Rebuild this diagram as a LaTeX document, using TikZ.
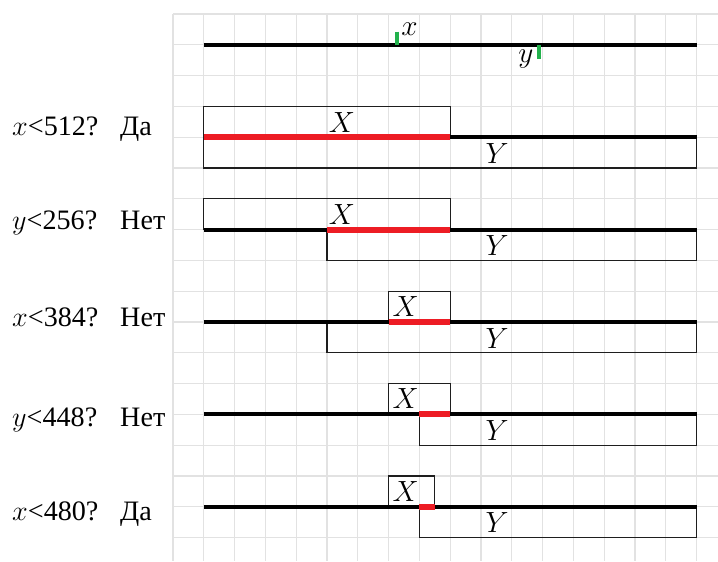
\documentclass[tikz,border=0pt]{standalone}
\usepackage{fix-cm}
\usepackage{fontspec}
\setmainfont{Liberation Serif}
\definecolor{gridgray}{RGB}{226,226,226}
\definecolor{hitred}{RGB}{237,28,36}
\definecolor{tickgreen}{RGB}{34,177,76}
\definecolor{boxgray}{RGB}{30,30,30}
\begin{document}
\begin{tikzpicture}[x=1cm,y=1cm,
  gridline/.style={draw=gridgray, line width=1.1pt},
  axisline/.style={draw=black, line width=3.7pt},
  hitline/.style={draw=hitred, line width=5.5pt},
  regbox/.style={draw=boxgray, line width=1.2pt},
  marktick/.style={draw=tickgreen, line width=3.7pt},
  lbl/.style={inner sep=0pt, font=\fontsize{26}{30}\selectfont, anchor=base west},
  setlbl/.style={inner sep=0pt, font=\fontsize{27}{30}\selectfont}]
\useasboundingbox (-5.617,0.4545) rectangle (17.695,-17.760);
% grid
\foreach \i in {0,...,17} {
  \draw[gridline] (\i,0) -- (\i,-17.76);
  \draw[gridline] (0,-\i) -- (17.695,-\i);
}
% top line with ticks
\coordinate (t0) at (1,-1);
\coordinate (t1) at (17,-1);
\draw[axisline] (t0) -- (t1);
\coordinate (gx0) at (7.283,-0.575);
\coordinate (gx1) at (7.283,-1);
\coordinate (gy0) at (11.873,-1);
\coordinate (gy1) at (11.873,-1.471);
\draw[marktick] (gx0) -- (gx1);
\draw[marktick] (gy0) -- (gy1);
\node[setlbl] (lx) at (7.675,-0.50) {$x$};
\node[setlbl] (ly) at (11.455,-1.46) {$y$};
% steps: #row, X box, Y box, red segment
% step 1
\draw[regbox] (1,-3) rectangle (9,-4);
\draw[regbox] (1,-4) rectangle (17,-5);
\coordinate (s1a) at (1,-4); \coordinate (s1b) at (17,-4);
\coordinate (r1a) at (1,-4); \coordinate (r1b) at (9,-4);
\draw[axisline] (s1a) -- (s1b);
\draw[hitline] (r1a) -- (r1b);
\node[setlbl] (X1) at (5.48,-3.52) {$X$};
\node[setlbl] (Y1) at (10.52,-4.52) {$Y$};
% step 2
\draw[regbox] (1,-6) rectangle (9,-7);
\draw[regbox] (5,-7) rectangle (17,-8);
\coordinate (s2a) at (1,-7); \coordinate (s2b) at (17,-7);
\coordinate (r2a) at (5,-7); \coordinate (r2b) at (9,-7);
\draw[axisline] (s2a) -- (s2b);
\draw[hitline] (r2a) -- (r2b);
\node[setlbl] (X2) at (5.48,-6.52) {$X$};
\node[setlbl] (Y2) at (10.52,-7.52) {$Y$};
% step 3
\draw[regbox] (7,-9) rectangle (9,-10);
\draw[regbox] (5,-10) rectangle (17,-11);
\coordinate (s3a) at (1,-10); \coordinate (s3b) at (17,-10);
\coordinate (r3a) at (7,-10); \coordinate (r3b) at (9,-10);
\draw[axisline] (s3a) -- (s3b);
\draw[hitline] (r3a) -- (r3b);
\node[setlbl] (X3) at (7.55,-9.50) {$X$};
\node[setlbl] (Y3) at (10.52,-10.52) {$Y$};
% step 4
\draw[regbox] (7,-12) rectangle (9,-13);
\draw[regbox] (8,-13) rectangle (17,-14);
\coordinate (s4a) at (1,-13); \coordinate (s4b) at (17,-13);
\coordinate (r4a) at (8,-13); \coordinate (r4b) at (9,-13);
\draw[axisline] (s4a) -- (s4b);
\draw[hitline] (r4a) -- (r4b);
\node[setlbl] (X4) at (7.55,-12.50) {$X$};
\node[setlbl] (Y4) at (10.52,-13.52) {$Y$};
% step 5
\draw[regbox] (7,-15) rectangle (8.5,-16);
\draw[regbox] (8,-16) rectangle (17,-17);
\coordinate (s5a) at (1,-16); \coordinate (s5b) at (17,-16);
\coordinate (r5a) at (8,-16); \coordinate (r5b) at (8.5,-16);
\draw[axisline] (s5a) -- (s5b);
\draw[hitline] (r5a) -- (r5b);
\node[setlbl] (X5) at (7.55,-15.51) {$X$};
\node[setlbl] (Y5) at (10.52,-16.52) {$Y$};
% left labels
\node[lbl] (q1) at (-5.227,-3.93) {$x$<512?};
\node[lbl] (a1) at (-1.72,-3.93) {Да};
\node[lbl] (q2) at (-5.227,-6.99) {$y$<256?};
\node[lbl] (a2) at (-1.72,-6.99) {Нет};
\node[lbl] (q3) at (-5.227,-10.15) {$x$<384?};
\node[lbl] (a3) at (-1.72,-10.15) {Нет};
\node[lbl] (q4) at (-5.227,-13.39) {$y$<448?};
\node[lbl] (a4) at (-1.72,-13.39) {Нет};
\node[lbl] (q5) at (-5.227,-16.44) {$x$<480?};
\node[lbl] (a5) at (-1.72,-16.44) {Да};
\end{tikzpicture}
\end{document}
